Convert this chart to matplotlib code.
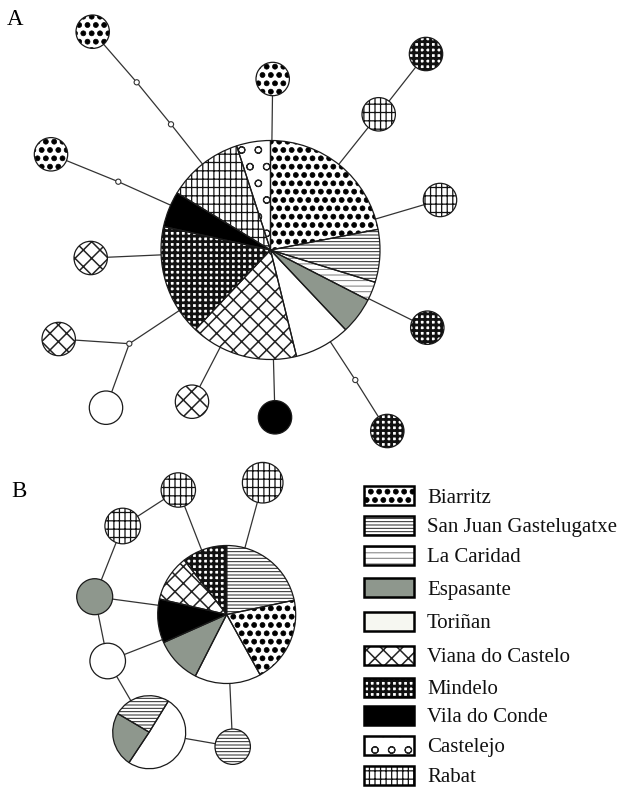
import matplotlib
matplotlib.use('Agg')
import matplotlib.pyplot as plt
import matplotlib.hatch as mhatch
from matplotlib.patches import Rectangle, Circle

# bigger filled dots for the '.' hatch (Biarritz texture)
mhatch.SmallFilledCircles.size = 0.3

W, H = 622, 788

# ---------------- data ----------------
categories = ['Biarritz', 'San Juan Gastelugatxe', 'La Caridad', 'Espasante', 'Toriñan',
              'Viana do Castelo', 'Mindelo', 'Vila do Conde', 'Castelejo', 'Rabat']

# hub A composition (clockwise from top)
hubA_cats = ['Biarritz', 'San Juan Gastelugatxe', 'La Caridad', 'Espasante', 'Toriñan',
             'Viana do Castelo', 'Mindelo', 'Vila do Conde', 'Rabat', 'Castelejo']
hubA_vals = [79, 28, 10, 19.5, 29.5, 57, 59, 19, 40.5, 18]

# hub B composition (clockwise from top)
hubB_cats = ['San Juan Gastelugatxe', 'Biarritz', 'Toriñan', 'Espasante', 'Vila do Conde',
             'Viana do Castelo', 'Mindelo']
hubB_vals = [78, 73, 56, 39, 37, 39, 38]

# mixed node in B (clockwise from screen angle 149 deg)
mixB_cats = ['San Juan Gastelugatxe', 'Toriñan', 'Espasante']
mixB_vals = [91, 182, 87]

# node layout: name -> (x, y, radius, categories, values, start angle on screen)
nodes = {
    'hubA': (270.5, 250.0, 109.5, hubA_cats, hubA_vals, 90),
    'A_bia1': (92.7, 31.7, 16.7, ['Biarritz'], [1], 90),
    'A_bia2': (272.7, 79.0, 16.7, ['Biarritz'], [1], 90),
    'A_bia3': (51.0, 154.3, 16.7, ['Biarritz'], [1], 90),
    'A_via1': (90.7, 258.0, 16.7, ['Viana do Castelo'], [1], 90),
    'A_via2': (58.7, 339.0, 16.7, ['Viana do Castelo'], [1], 90),
    'A_tor': (106.0, 407.7, 16.7, ['Toriñan'], [1], 90),
    'A_via3': (192.0, 401.7, 16.7, ['Viana do Castelo'], [1], 90),
    'A_vdc': (275.0, 417.3, 16.7, ['Vila do Conde'], [1], 90),
    'A_min1': (387.3, 431.0, 16.7, ['Mindelo'], [1], 90),
    'A_min2': (427.3, 327.7, 16.7, ['Mindelo'], [1], 90),
    'A_rab1': (440.0, 200.0, 16.7, ['Rabat'], [1], 90),
    'A_rab2': (378.7, 114.3, 16.7, ['Rabat'], [1], 90),
    'A_min3': (426.0, 54.0, 16.7, ['Mindelo'], [1], 90),
    'hubB': (226.7, 614.5, 69.0, hubB_cats, hubB_vals, 90),
    'B_rab1': (262.7, 482.7, 20.3, ['Rabat'], [1], 90),
    'B_rab2': (178.3, 490.0, 17.2, ['Rabat'], [1], 90),
    'B_rab3': (122.7, 526.0, 17.8, ['Rabat'], [1], 90),
    'B_esp': (94.7, 596.7, 18.0, ['Espasante'], [1], 90),
    'B_tor': (107.7, 661.0, 17.8, ['Toriñan'], [1], 90),
    'B_mix': (149.2, 732.2, 36.5, mixB_cats, mixB_vals, 149.4),
    'B_sj': (232.7, 746.7, 17.7, ['San Juan Gastelugatxe'], [1], 90),
}

# mutation steps (small open circles)
mutations = {
    'm1': (136.7, 82.3), 'm2': (171.0, 124.3), 'm3': (118.3, 181.7),
    'm4': (129.3, 343.7), 'm5': (355.3, 380.0),
}

edges = [
    ('A_bia1', 'm1'), ('m1', 'm2'), ('m2', 'hubA'),
    ('A_bia2', 'hubA'),
    ('A_bia3', 'm3'), ('m3', 'hubA'),
    ('A_via1', 'hubA'),
    ('A_via2', 'm4'), ('A_tor', 'm4'), ('m4', 'hubA'),
    ('A_via3', 'hubA'), ('A_vdc', 'hubA'),
    ('A_min1', 'm5'), ('m5', 'hubA'),
    ('A_min2', 'hubA'), ('A_rab1', 'hubA'), ('A_rab2', 'hubA'), ('A_min3', 'A_rab2'),
    ('B_rab1', 'hubB'), ('B_rab2', 'hubB'), ('B_rab2', 'B_rab3'), ('B_rab3', 'B_esp'),
    ('B_esp', 'hubB'), ('B_esp', 'B_tor'), ('B_tor', 'hubB'), ('B_tor', 'B_mix'),
    ('B_mix', 'B_sj'), ('B_sj', 'hubB'),
]

# ---------------- styles ----------------
styles = {
    'Biarritz': dict(face='white', hatch='..', hc='black', hlw=0.5),
    'San Juan Gastelugatxe': dict(face='white', hatch='-----', hc='#222222', hlw=0.7),
    'La Caridad': dict(face='white', hatch='---', hc='#8a8a8a', hlw=0.8),
    'Espasante': dict(face='#8e978d', hatch=None, hc='#8e978d', hlw=1.0),
    'Toriñan': dict(face='white', hatch=None, hc='white', hlw=1.0),
    'Viana do Castelo': dict(face='white', hatch='xx', hc='#222222', hlw=1.1),
    'Mindelo': dict(face='white', hatch='+++', hc='#111111', hlw=2.0),
    'Vila do Conde': dict(face='black', hatch=None, hc='black', hlw=1.0),
    'Castelejo': dict(face='white', hatch='o', hc='#222222', hlw=0.8),
    'Rabat': dict(face='white', hatch='++|', hc='#111111', hlw=0.9),
}


def set_hlw(patch, lw):
    if hasattr(patch, 'set_hatch_linewidth'):
        patch.set_hatch_linewidth(lw)


fig = plt.figure(figsize=(W / 100, H / 100), dpi=100)
ax = fig.add_axes([0, 0, 1, 1])


def pos(name):
    if name in nodes:
        return nodes[name][0], nodes[name][1]
    return mutations[name]


for a, b in edges:
    (x1, y1), (x2, y2) = pos(a), pos(b)
    ax.plot([x1, x2], [y1, y2], color='#333333', lw=0.9, zorder=1, solid_capstyle='butt')

for name, (x, y, r, cats, vals, start) in nodes.items():
    # fill + hatch pass
    wedges, _ = ax.pie(vals, center=(x, y), radius=r, startangle=-start, counterclock=True,
                       colors=[styles[c]['face'] for c in cats],
                       wedgeprops=dict(linewidth=0))
    for w, c in zip(wedges, cats):
        st = styles[c]
        w.set_edgecolor(st['hc'])
        if st['hatch']:
            w.set_hatch(st['hatch'])
            set_hlw(w, st['hlw'])
        w.set_zorder(2)
    # outline pass
    wedges2, _ = ax.pie(vals, center=(x, y), radius=r, startangle=-start, counterclock=True,
                        wedgeprops=dict(fill=False, edgecolor='#1a1a1a', linewidth=0.9))
    for w in wedges2:
        w.set_zorder(3)

for name, (x, y) in mutations.items():
    ax.add_patch(Circle((x, y), 2.6, facecolor='white', edgecolor='#333333', lw=0.8, zorder=4))

# ---------------- legend ----------------
leg_y = [495.5, 525.0, 555.5, 587.5, 621.0, 655.0, 687.5, 715.0, 745.0, 775.0]
serif = ['Liberation Serif', 'DejaVu Serif']
for c, yc in zip(categories, leg_y):
    st = styles[c]
    face = '#f6f7f1' if c == 'Toriñan' else st['face']
    rect = Rectangle((363.5, yc - 9.5), 50, 19, facecolor=face, edgecolor=st['hc'],
                     linewidth=0, hatch=st['hatch'], zorder=2)
    if st['hatch']:
        set_hlw(rect, st['hlw'])
    ax.add_patch(rect)
    ax.add_patch(Rectangle((363.5, yc - 9.5), 50, 19, fill=False, edgecolor='black',
                           linewidth=1.8, zorder=3))
    ax.text(427, yc + 7, c, family=serif, fontsize=15, ha='left', va='baseline', color='#111111')

ax.text(7, 25, 'A', family=serif, fontsize=16.5, ha='left', va='baseline')
ax.text(11, 497, 'B', family=serif, fontsize=16.5, ha='left', va='baseline')

ax.set_xlim(0, W)
ax.set_ylim(H, 0)
ax.set_aspect('auto')
ax.axis('off')
fig.savefig('out.png', dpi=100, facecolor='white')
